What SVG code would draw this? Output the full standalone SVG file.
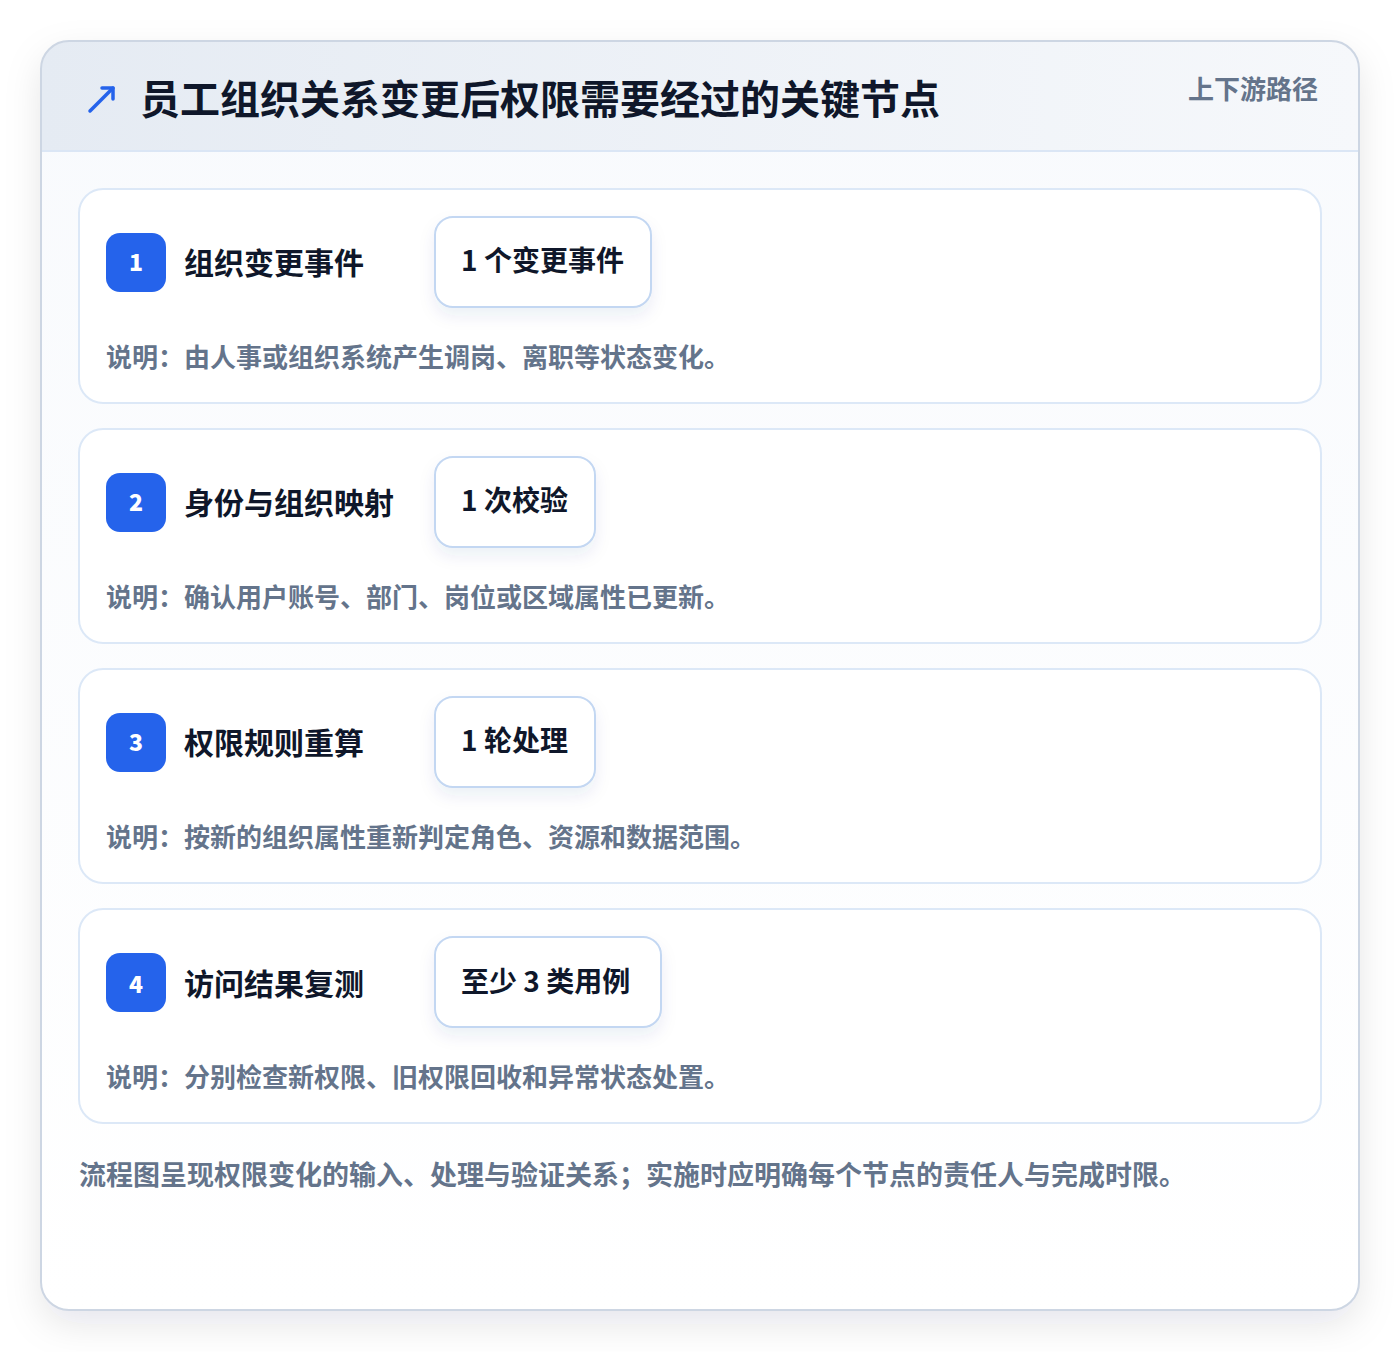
<svg xmlns="http://www.w3.org/2000/svg" width="1400" height="1352" viewBox="0 0 1400 1352">
<defs>
<linearGradient id="hdr" x1="0" y1="0" x2="1" y2="0">
<stop offset="0" stop-color="#e5ebf3"/>
<stop offset="1" stop-color="#f6f8fb"/>
</linearGradient>
<linearGradient id="body" x1="0" y1="0" x2="0" y2="1">
<stop offset="0" stop-color="#f8fafd"/>
<stop offset="1" stop-color="#ffffff"/>
</linearGradient>
<filter id="sh" x="-10%" y="-10%" width="120%" height="120%">
<feDropShadow dx="0" dy="14" stdDeviation="18" flood-color="#0f172a" flood-opacity="0.10"/>
</filter>
<filter id="psh" x="-20%" y="-20%" width="140%" height="160%">
<feDropShadow dx="0" dy="8" stdDeviation="8" flood-color="#1e3a8a" flood-opacity="0.08"/>
</filter>
<clipPath id="cardclip"><rect x="41" y="41" width="1318" height="1269" rx="28"/></clipPath>
</defs>
<style>
text{font-family:"Noto Sans CJK SC","Noto Sans",sans-serif;font-weight:700}
.step{fill:#ffffff;stroke:#dce8f7;stroke-width:2}
.badge{fill:#2563eb}
.num{fill:#ffffff;font-size:23px;font-weight:900;text-anchor:middle}
.stitle{fill:#0f172a;font-size:30px}
.pill{fill:#ffffff;stroke:#c3d7f2;stroke-width:2}
.ptext{fill:#0f172a;font-size:28px}
.desc{fill:#64748b;font-size:26px}
</style>
<rect width="1400" height="1352" fill="#ffffff"/>
<g id="card">
<rect x="41" y="41" width="1318" height="1269" rx="28" fill="url(#body)" filter="url(#sh)"/>
<g clip-path="url(#cardclip)">
<rect x="41" y="41" width="1318" height="110" fill="url(#hdr)"/>
<line x1="41" y1="151" x2="1359" y2="151" stroke="#dbe6f5" stroke-width="2"/>
</g>
<rect x="41" y="41" width="1318" height="1269" rx="28" fill="none" stroke="#cdd6e3" stroke-width="2"/>
</g>
<g id="header">
<g id="icon" stroke="#2563eb" stroke-width="3.5" fill="none" stroke-linecap="round" stroke-linejoin="round">
<line x1="90" y1="111" x2="113" y2="88"/>
<polyline points="102,88 113,88 113,99"/>
</g>
<text x="140" y="114" font-size="40" font-weight="900" fill="#0f172a">员工组织关系变更后权限需要经过的关键节点</text>
<text x="1318" y="99" font-size="26" fill="#64748b" text-anchor="end">上下游路径</text>
</g>
<g id="node1">
<rect class="step" x="79" y="189" width="1242" height="214" rx="24"/>
<rect class="badge" x="106" y="233" width="60" height="59" rx="14"/>
<text class="num" x="136" y="271">1</text>
<text class="stitle" x="184" y="274">组织变更事件</text>
<rect class="pill" x="435" y="217" width="216" height="90" rx="18" filter="url(#psh)"/>
<text class="ptext" x="461" y="271">1 个变更事件</text>
<text class="desc" x="106" y="367">说明：由人事或组织系统产生调岗、离职等状态变化。</text>
</g>
<g id="node2">
<rect class="step" x="79" y="429" width="1242" height="214" rx="24"/>
<rect class="badge" x="106" y="473" width="60" height="59" rx="14"/>
<text class="num" x="136" y="511">2</text>
<text class="stitle" x="184" y="514">身份与组织映射</text>
<rect class="pill" x="435" y="457" width="160" height="90" rx="18" filter="url(#psh)"/>
<text class="ptext" x="461" y="511">1 次校验</text>
<text class="desc" x="106" y="607">说明：确认用户账号、部门、岗位或区域属性已更新。</text>
</g>
<g id="node3">
<rect class="step" x="79" y="669" width="1242" height="214" rx="24"/>
<rect class="badge" x="106" y="713" width="60" height="59" rx="14"/>
<text class="num" x="136" y="751">3</text>
<text class="stitle" x="184" y="754">权限规则重算</text>
<rect class="pill" x="435" y="697" width="160" height="90" rx="18" filter="url(#psh)"/>
<text class="ptext" x="461" y="751">1 轮处理</text>
<text class="desc" x="106" y="847">说明：按新的组织属性重新判定角色、资源和数据范围。</text>
</g>
<g id="node4">
<rect class="step" x="79" y="909" width="1242" height="214" rx="24"/>
<rect class="badge" x="106" y="953" width="60" height="59" rx="14"/>
<text class="num" x="136" y="993">4</text>
<text class="stitle" x="184" y="995">访问结果复测</text>
<rect class="pill" x="435" y="937" width="226" height="90" rx="18" filter="url(#psh)"/>
<text class="ptext" x="461" y="992">至少 3 类用例</text>
<text class="desc" x="106" y="1087">说明：分别检查新权限、旧权限回收和异常状态处置。</text>
</g>
<g id="connectors"/>
<text x="79" y="1185" font-size="27" fill="#64748b">流程图呈现权限变化的输入、处理与验证关系；实施时应明确每个节点的责任人与完成时限。</text>
</svg>
